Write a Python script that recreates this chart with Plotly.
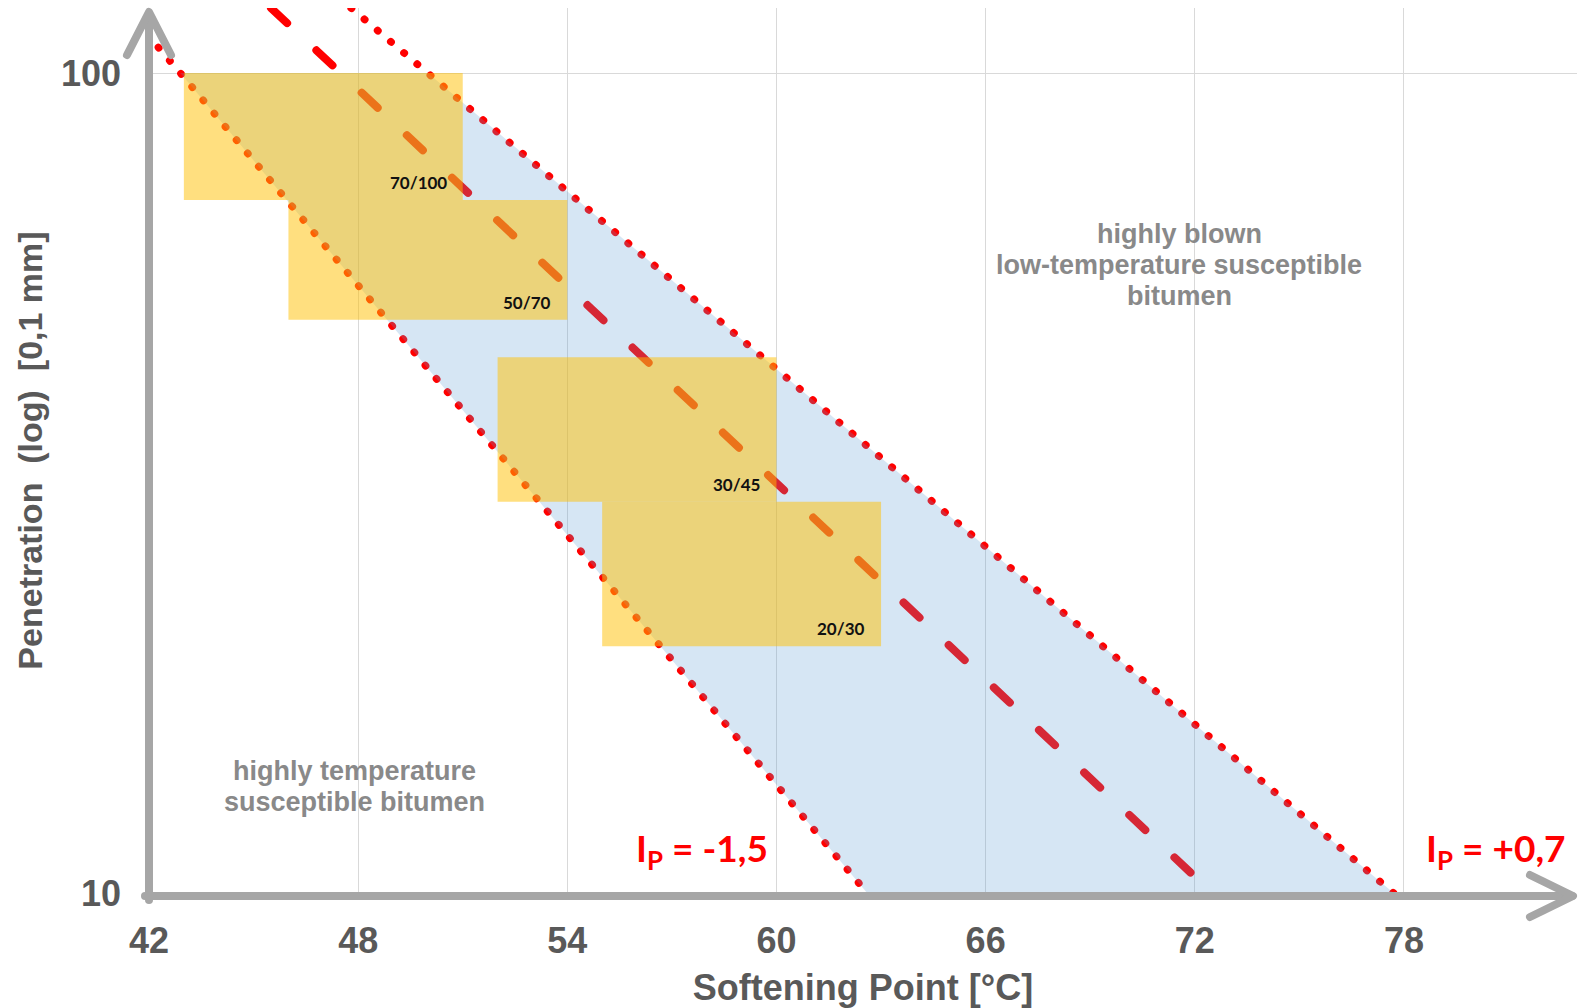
import numpy as np
import plotly.graph_objects as go

# ---------------- data ----------------
grades = ["70/100", "50/70", "30/45", "20/30"]
grade_pen_low = [70, 50, 30, 20]
grade_pen_high = [100, 70, 45, 30]
grade_sp_low = [43, 46, 52, 55]
grade_sp_high = [51, 54, 60, 63]

# penetration index lines: softening point read at penetration 120 / 100 / 10
line_pen = [120, 100, 10]
sp_ip_m15 = [41.3, 42.9, 62.6]
sp_ip_0 = [45.5, 47.5, 72.5]
sp_ip_p07 = [47.8, 50.0, 77.7]
ip_labels = ["I<sub>P</sub> = -1,5", "I<sub>P</sub> = +0,7"]

x_ticks = [42, 48, 54, 60, 66, 72, 78]
y_ticks = [10, 100]
x_title = "Softening Point [°C]"
y_title = "Penetration  (log)  [0,1 mm]"
region_upper = ["highly blown", "low-temperature susceptible", "bitumen"]
region_lower = ["highly temperature", "susceptible bitumen"]

# ---------------- layout geometry ----------------
W, H = 1579, 1008
ML, MR, MT, MB = 149, 2, 8, 115
PW, PH = W - ML - MR, H - MT - MB
X_PER_UNIT = 34.86
DECADE_PX = 820.0
x_range = [42, 42 + PW / X_PER_UNIT]
y_range = [1, 1 + PH / DECADE_PX]


def px(X):
    return (X - ML) / PW


def py(Y):
    return (H - MB - Y) / PH


RED = "#FF0000"
AXIS = "#A6A6A6"
TXT = "#595959"
REGION = "#898989"

fig = go.Figure()

# IP lines
fig.add_trace(go.Scatter(x=sp_ip_m15, y=line_pen, mode="lines",
                         line=dict(color=RED, width=7.5, dash="0.5px,16.8px"),
                         hoverinfo="skip", showlegend=False))
fig.add_trace(go.Scatter(x=sp_ip_0, y=line_pen, mode="lines",
                         line=dict(color=RED, width=8, dash="22px,40px"),
                         hoverinfo="skip", showlegend=False))
fig.add_trace(go.Scatter(x=sp_ip_p07, y=line_pen, mode="lines",
                         line=dict(color=RED, width=7.5, dash="0.5px,16.8px"),
                         hoverinfo="skip", showlegend=False))

# blue band between IP -1.5 and +0.7
band_x = [sp_ip_m15[1], sp_ip_p07[1], sp_ip_p07[2], sp_ip_m15[2], sp_ip_m15[1]]
band_y = [line_pen[1], line_pen[1], line_pen[2], line_pen[2], line_pen[1]]
fig.add_trace(go.Scatter(x=band_x, y=band_y, mode="lines", fill="toself",
                         fillcolor="rgba(91,155,213,0.25)", line=dict(width=0),
                         hoverinfo="skip", showlegend=False))

# grade boxes
for g, pl, ph, sl, sh in zip(grades, grade_pen_low, grade_pen_high, grade_sp_low, grade_sp_high):
    fig.add_trace(go.Scatter(x=[sl, sh, sh, sl, sl], y=[pl, pl, ph, ph, pl], mode="lines",
                             fill="toself", fillcolor="rgba(255,192,0,0.5)", line=dict(width=0),
                             name=g, hoverinfo="name", showlegend=False))
    fig.add_annotation(x=sh, y=np.log10(pl), xref="x", yref="y", text="<b>" + g + "</b>",
                       showarrow=False, xanchor="right", yanchor="bottom", xshift=-14, yshift=5,
                       font=dict(family="Lato", size=17, color="#111111"))

# region labels (one annotation per line for the tight line spacing)
for i, t in enumerate(region_upper):
    fig.add_annotation(x=71.55, y=1.766, xref="x", yref="y", text="<b>" + t + "</b>",
                       showarrow=False, xanchor="center", yanchor="middle",
                       yshift=(1 - i) * 31,
                       font=dict(family="Liberation Sans", size=27, color=REGION))
for i, t in enumerate(region_lower):
    fig.add_annotation(x=47.9, y=1.130, xref="x", yref="y", text="<b>" + t + "</b>",
                       showarrow=False, xanchor="center", yanchor="middle",
                       yshift=(0.5 - i) * 31,
                       font=dict(family="Liberation Sans", size=27, color=REGION))

# IP labels
fig.add_annotation(x=59.8, y=1.058, xref="x", yref="y", text="<b>" + ip_labels[0] + "</b>",
                   showarrow=False, xanchor="right", yanchor="middle", yshift=-5,
                   font=dict(family="Lato", size=37, color=RED))
fig.add_annotation(x=82.7, y=1.058, xref="x", yref="y", text="<b>" + ip_labels[1] + "</b>",
                   showarrow=False, xanchor="right", yanchor="middle", yshift=-5,
                   font=dict(family="Lato", size=37, color=RED))

# axis lines with arrows
ax_line = dict(color=AXIS, width=8)
fig.add_shape(type="line", xref="paper", yref="paper", x0=px(149), x1=px(149), y0=py(900), y1=py(14),
              line=ax_line, layer="above")
fig.add_shape(type="path", xref="paper", yref="paper",
              path=f"M {px(127)} {py(55)} L {px(149)} {py(12)} L {px(171)} {py(55)}",
              line=ax_line, layer="above")
fig.add_shape(type="line", xref="paper", yref="paper", x0=px(145), x1=px(1572), y0=py(896), y1=py(896),
              line=ax_line, layer="above")
fig.add_shape(type="path", xref="paper", yref="paper",
              path=f"M {px(1530)} {py(875)} L {px(1573)} {py(896)} L {px(1530)} {py(917)}",
              line=ax_line, layer="above")

fig.update_layout(
    width=W, height=H,
    margin=dict(l=ML, r=MR, t=MT, b=MB),
    paper_bgcolor="white", plot_bgcolor="white",
    showlegend=False,
    xaxis=dict(range=x_range, tickvals=x_ticks, ticktext=[f"<b>{v}</b>" for v in x_ticks],
               showgrid=True, gridcolor="#D9D9D9", gridwidth=1, zeroline=False, showline=False,
               ticks="", ticklabelstandoff=23,
               tickfont=dict(family="Liberation Sans", size=36, color=TXT),
               title=dict(text="<b>" + x_title + "</b>", standoff=15,
                          font=dict(family="Liberation Sans", size=36, color=TXT))),
    yaxis=dict(type="log", range=y_range, tickvals=y_ticks, ticktext=[f"<b>{v}</b>" for v in y_ticks],
               showgrid=True, gridcolor="#D9D9D9", gridwidth=1, zeroline=False, showline=False,
               ticks="", ticklabelstandoff=27,
               tickfont=dict(family="Liberation Sans", size=36, color=TXT),
               title=dict(text="<b>" + y_title + "</b>", standoff=8,
                          font=dict(family="Liberation Sans", size=34, color=TXT))),
)

post = """
var gd = document.getElementById('{plot_id}');
function fixStyle(){
  document.body.style.margin = '0';
  document.body.style.overflow = 'hidden';
  gd.querySelectorAll('.scatterlayer .js-line').forEach(function(p){
    p.style.strokeLinecap = 'round';
  });
  gd.querySelectorAll('.shapelayer path').forEach(function(p){
    p.style.strokeLinecap = 'round';
    p.style.strokeLinejoin = 'round';
  });
}
fixStyle();
setTimeout(fixStyle, 50);
if (gd.on) { gd.on('plotly_afterplot', fixStyle); }
"""

fig.write_html("out.html", post_script=post, config={"displayModeBar": False})
